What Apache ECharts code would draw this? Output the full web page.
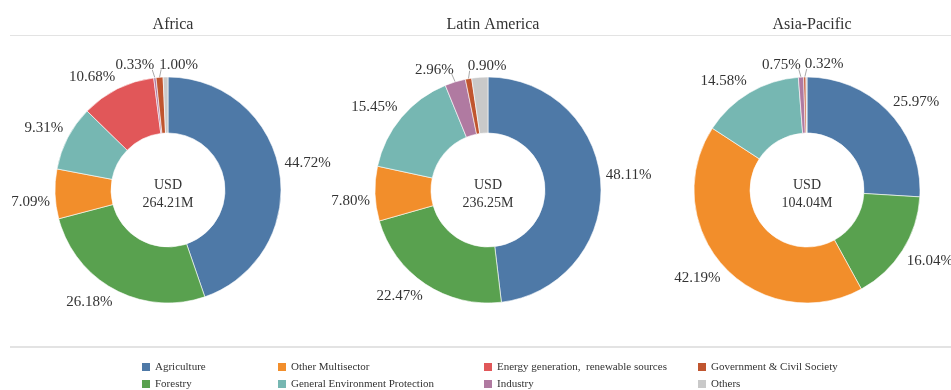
<!DOCTYPE html>
<html>
<head>
<meta charset="utf-8">
<script src="https://cdn.jsdelivr.net/npm/echarts@6/dist/echarts.min.js"></script>
<style>
  html, body { margin: 0; padding: 0; background: #fff; }
  #chart { width: 951px; height: 390px; }
</style>
</head>
<body>
<div id="chart"></div>
<script>
// Funding shares by sector (% of regional total), clockwise from 12 o'clock
const sectors = [
  'Agriculture', 'Forestry', 'Other Multisector', 'General Environment Protection',
  'Energy generation,  renewable sources', 'Industry', 'Government & Civil Society', 'Others'
];
const regions = ['Africa', 'Latin America', 'Asia-Pacific'];
const totals = ['264.21M', '236.25M', '104.04M'];

const africa       = [44.72, 26.18, 7.09, 9.31, 10.68, 0.33, 1.00, 0.69];
const latinAmerica = [48.11, 22.47, 7.80, 15.45, 0, 2.96, 0.90, 2.31];
const asiaPacific  = [25.97, 16.04, 42.19, 14.58, 0, 0.75, 0.32, 0.15];

// Slices whose share is not printed beside the ring
const unlabeled = ['Others'];

const palette = ['#4e79a7', '#59a14f', '#f28e2b', '#76b7b2', '#e15759', '#b07aa1', '#c0552f', '#c9c9c9'];
const serif = '"Liberation Serif", "Times New Roman", serif';

const regionValues = [africa, latinAmerica, asiaPacific];
const centers = [[168, 190], [488, 190], [807, 190]];
const innerR = 57, outerR = 113, labelGap = 5;

// Places each share label just outside its slice's mid-angle: the box hangs
// above the anchor in the upper half and below it in the lower half, on the
// outward side; a label that collides with an earlier one flips sides.
function makeLabelLayout(r) {
  const items = regionValues[r].map((v, i) => ({ v, i })).filter(d => d.v > 0);
  const total = items.reduce((s, d) => s + d.v, 0);
  const mids = [];
  let acc = 0;
  items.forEach(d => { mids.push((acc + d.v / 2) / total * Math.PI * 2); acc += d.v; });
  const [cx, cy] = centers[r];
  const boxes = {};
  const hits = (a, b) => a.x < b.x + b.w && b.x < a.x + a.w && a.y < b.y + b.h && b.y < a.y + a.h;
  return function (p) {
    const th = mids[p.dataIndex];
    const s = Math.sin(th), c = Math.cos(th);
    const ax = cx + (outerR + labelGap) * s;
    const ay = cy - (outerR + labelGap) * c;
    const w = p.labelRect.width, h = p.labelRect.height;
    const box = { x: s >= 0 ? ax : ax - w, y: c > 0 ? ay - h : ay, w, h };
    const earlier = Object.keys(boxes).map(Number).filter(k => k < p.dataIndex).map(k => boxes[k]);
    if (earlier.some(b => hits(box, b))) {
      box.x = s >= 0 ? ax - w : ax;
    }
    boxes[p.dataIndex] = box;
    // leader from the slice edge to the nearest point of the label box
    const ox = cx + outerR * s, oy = cy - outerR * c;
    const nx = Math.min(Math.max(ox, box.x + 2), box.x + box.w - 2);
    const ny = Math.min(Math.max(oy, box.y + 3), box.y + box.h - 3);
    return {
      x: box.x, y: box.y, align: 'left', verticalAlign: 'top',
      labelLinePoints: [[ox, oy], [nx, ny], [nx, ny]]
    };
  };
}

const series = regionValues.map((vals, r) => ({
  type: 'pie',
  name: regions[r],
  center: centers[r],
  radius: [innerR, outerR],
  startAngle: 90,
  clockwise: true,
  avoidLabelOverlap: false,
  itemStyle: { borderColor: '#fff', borderWidth: 0.6 },
  label: {
    show: true,
    position: 'outside',
    fontFamily: serif,
    fontSize: 15,
    color: '#333',
    formatter: p => p.value.toFixed(2) + '%'
  },
  labelLine: { show: true, length: 4, length2: 0, lineStyle: { color: '#a8a8a8', width: 1 } },
  labelLayout: makeLabelLayout(r),
  emphasis: { disabled: true },
  data: vals.map((v, i) => ({
    name: sectors[i],
    value: v,
    itemStyle: { color: palette[i] },
    label: { show: unlabeled.indexOf(sectors[i]) < 0 },
    labelLine: { show: v < 4 && unlabeled.indexOf(sectors[i]) < 0 }
  })).filter(d => d.value > 0)
}));

const legendCols = [
  { left: 140, names: [sectors[0], sectors[1]] },
  { left: 276, names: [sectors[2], sectors[3]] },
  { left: 482, names: [sectors[4], sectors[5]] },
  { left: 696, names: [sectors[6], sectors[7]] }
];

const legends = legendCols.map(c => ({
  orient: 'vertical',
  left: c.left,
  top: 361,
  height: 40,
  padding: 0,
  itemWidth: 10,
  itemHeight: 10,
  itemGap: 5,
  icon: 'rect',
  data: c.names,
  selectedMode: false,
  textStyle: { fontFamily: serif, fontSize: 11, color: '#333', lineHeight: 11, padding: [0, 0, 0, -1] }
}));

const titles = regions.map((name, r) => ({
  text: name,
  left: centers[r][0],
  top: 12,
  textAlign: 'center',
  textStyle: { fontFamily: serif, fontSize: 16, fontWeight: 'normal', color: '#333' }
}));

const centerTexts = regions.map((name, r) => ({
  type: 'text',
  x: centers[r][0],
  y: centers[r][1] + 4,
  style: {
    text: 'USD\n' + totals[r],
    align: 'center',
    verticalAlign: 'middle',
    font: '14px ' + serif,
    fill: '#333',
    lineHeight: 18
  }
}));

const chart = echarts.init(document.getElementById('chart'), null, { renderer: 'canvas' });
chart.setOption({
  animation: false,
  title: titles,
  legend: legends,
  graphic: [
    { type: 'rect', shape: { x: 10, y: 35, width: 941, height: 1 }, style: { fill: '#e3e3e3' } },
    { type: 'rect', shape: { x: 10, y: 346, width: 941, height: 2 }, style: { fill: '#e3e3e3' } }
  ].concat(centerTexts),
  series: series
});
</script>
</body>
</html>
